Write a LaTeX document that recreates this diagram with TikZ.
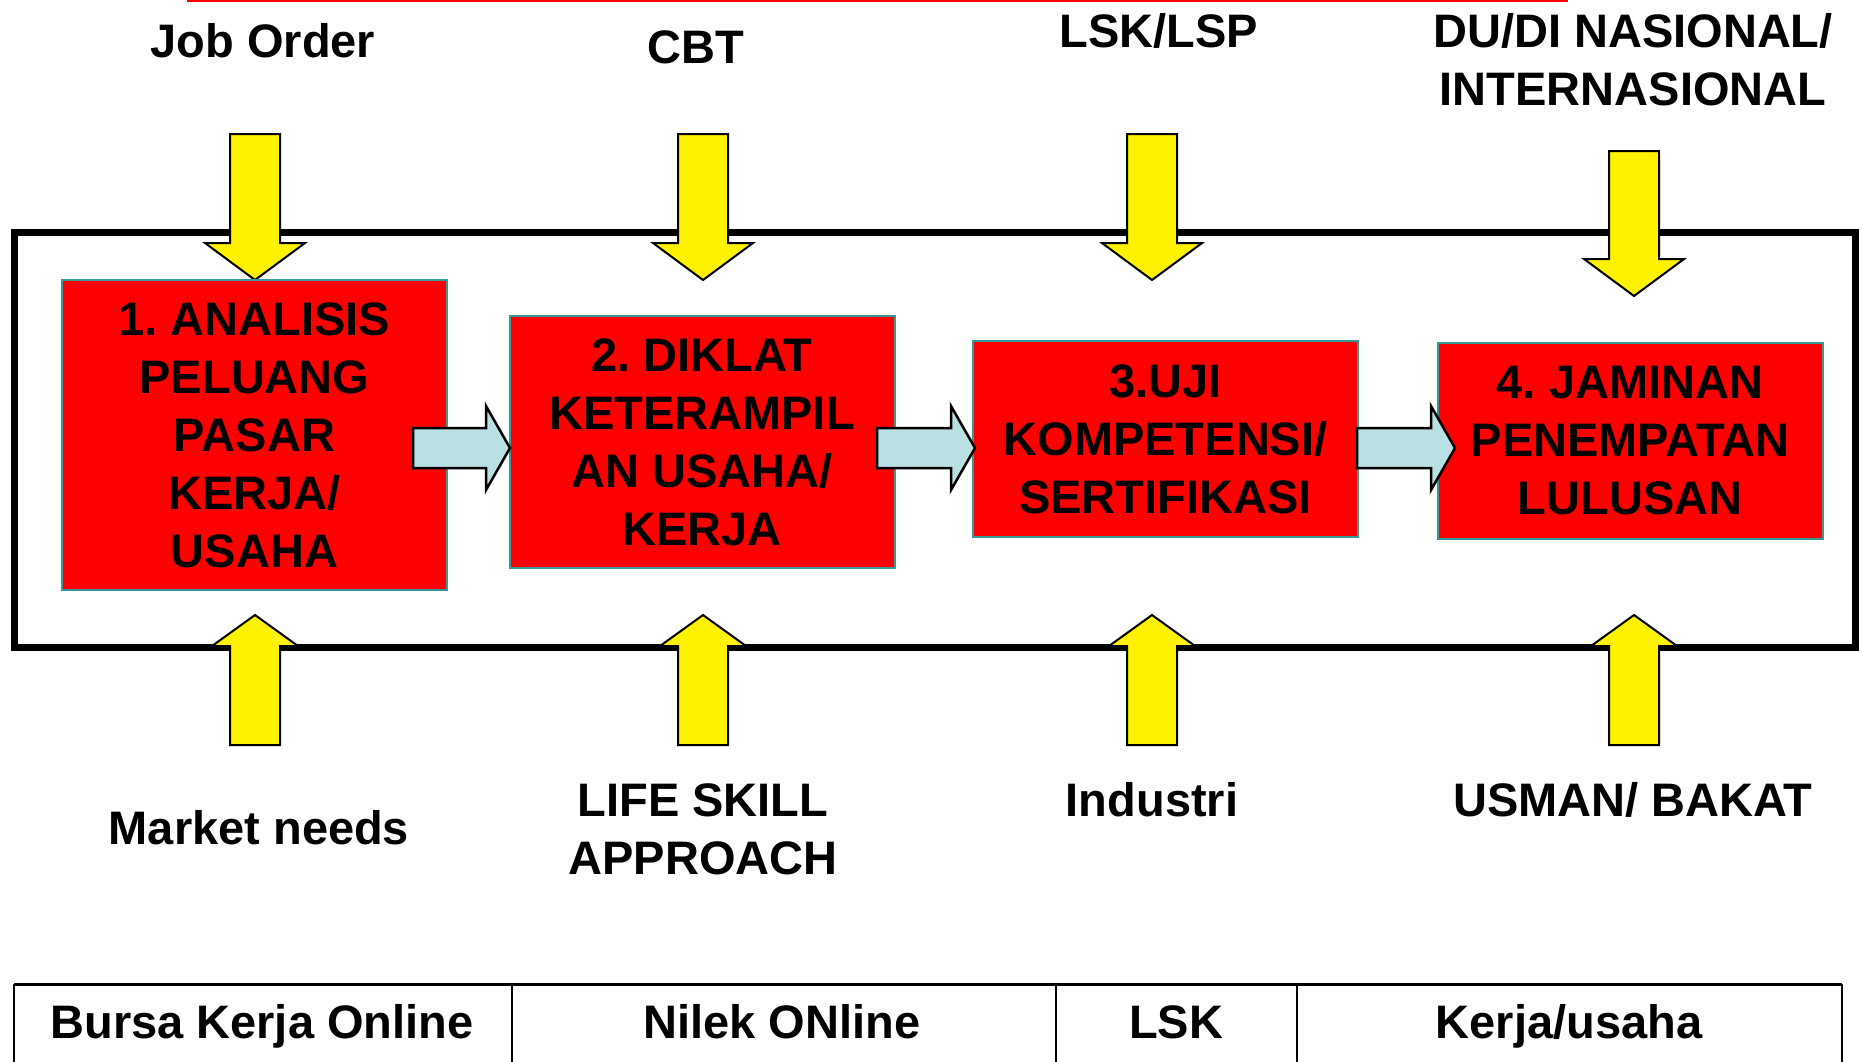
\documentclass[tikz,border=0pt]{standalone}
\usepackage{fontspec}
\setmainfont{Liberation Sans}
\usetikzlibrary{calc}

\definecolor{boxedge}{RGB}{51,153,153}
\definecolor{flowblue}{RGB}{187,224,227}

\newcommand{\downblock}[2]{\draw[yarrow] let \p1=(#1), \p2=(#2) in
  (\x1-12.5pt,\y1) -- (\x1-12.5pt,\y2+18.5pt) -- (\x1-25pt,\y2+18.5pt) -- (\x2,\y2)
  -- (\x1+25pt,\y2+18.5pt) -- (\x1+12.5pt,\y2+18.5pt) -- (\x1+12.5pt,\y1) -- cycle;}
\newcommand{\upblock}[2]{\draw[yarrow] let \p1=(#1), \p2=(#2) in
  (\x1-12.5pt,\y1) -- (\x1-12.5pt,\y2-15.5pt) -- (\x1-21.5pt,\y2-15.5pt) -- (\x2,\y2)
  -- (\x1+21.5pt,\y2-15.5pt) -- (\x1+12.5pt,\y2-15.5pt) -- (\x1+12.5pt,\y1) -- cycle;}
\newcommand{\rightblock}[2]{\draw[barrow] let \p1=(#1), \p2=(#2) in
  (\x1,\y1-10pt) -- (\x2-12pt,\y1-10pt) -- (\x2-12pt,\y1-21pt) -- (\x2,\y1)
  -- (\x2-12pt,\y1+21pt) -- (\x2-12pt,\y1+10pt) -- (\x1,\y1+10pt) -- cycle;}

\begin{document}
\begin{tikzpicture}[x=0.5pt, y=-0.5pt,
    font=\fontsize{23.5}{29}\selectfont\bfseries\frenchspacing,
    redbox/.style={draw=boxedge, fill=red, line width=1pt, minimum width=192.5pt, align=center, inner sep=0pt},
    lbl/.style={anchor=base, align=center, inner sep=0pt},
    yarrow/.style={draw=black, fill=yellow, line width=1pt, line join=miter},
    barrow/.style={draw=black, fill=flowblue, line width=1.25pt, line join=miter},
    tableline/.style={draw=black, line width=1pt}]
    \useasboundingbox (0,0) rectangle (1862,1061);

    \draw[red, line width=2pt] (187,0) -- (1568,0);

    \node[lbl] (joborder) at (263,57) {Job Order};
    \node[lbl] (cbt) at (696,63) {CBT};
    \node[lbl] (lsklsp) at (1159,47) {LSK/LSP};
    \node[lbl] (dudi) at (1633,105) {DU/DI NASIONAL/\\INTERNASIONAL};

    \node[lbl] (market) at (259,844) {Market needs};
    \node[lbl] (lifeskill) at (703,874) {LIFE SKILL\\APPROACH};
    \node[lbl] (industri) at (1152,816) {Industri};
    \node[lbl] (usman) at (1633,816) {USMAN/ BAKAT};

    \draw[line width=3.5pt] (14,232) rectangle (1855,647);

    \coordinate (jo-top) at (255,134);  \coordinate (jo-tip) at (255,280);
    \coordinate (cbt-top) at (703,134); \coordinate (cbt-tip) at (703,280);
    \coordinate (lsk-top) at (1152,134); \coordinate (lsk-tip) at (1152,280);
    \coordinate (dudi-top) at (1634,151); \coordinate (dudi-tip) at (1634,296);
    \coordinate (mkt-bot) at (255,745);  \coordinate (mkt-tip) at (255,615);
    \coordinate (life-bot) at (703,745); \coordinate (life-tip) at (703,615);
    \coordinate (ind-bot) at (1152,745); \coordinate (ind-tip) at (1152,615);
    \coordinate (usm-bot) at (1634,745); \coordinate (usm-tip) at (1634,615);

    \downblock{jo-top}{jo-tip}
    \downblock{cbt-top}{cbt-tip}
    \downblock{lsk-top}{lsk-tip}
    \downblock{dudi-top}{dudi-tip}
    \upblock{mkt-bot}{mkt-tip}
    \upblock{life-bot}{life-tip}
    \upblock{ind-bot}{ind-tip}
    \upblock{usm-bot}{usm-tip}

    \node[redbox, minimum height=155pt] (analisis) at (254.5,435) {1. ANALISIS\\PELUANG\\PASAR\\KERJA/\\USAHA};
    \node[redbox, minimum height=126pt] (diklat) at (702,442) {2. DIKLAT\\KETERAMPIL\\AN USAHA/\\KERJA};
    \node[redbox, minimum height=98pt] (uji) at (1165.5,439) {3.UJI\\KOMPETENSI/\\SERTIFIKASI};
    \node[redbox, minimum height=98pt] (jaminan) at (1630,441) {4. JAMINAN\\PENEMPATAN\\LULUSAN};

    \coordinate (f1) at (413,448);  \coordinate (t1) at (510,448);
    \coordinate (f2) at (877,448);  \coordinate (t2) at (975,448);
    \coordinate (f3) at (1357,448); \coordinate (t3) at (1455,448);
    \rightblock{f1}{t1}
    \rightblock{f2}{t2}
    \rightblock{f3}{t3}

    \draw[tableline, line width=1.5pt] (14,984) -- (1842,984);
    \draw[tableline] (14,984) -- (14,1070);
    \draw[tableline] (512,984) -- (512,1070);
    \draw[tableline] (1056,984) -- (1056,1070);
    \draw[tableline] (1297,984) -- (1297,1070);
    \draw[tableline] (1842,984) -- (1842,1070);
    \node[lbl] (bursa) at (262,1038) {Bursa Kerja Online};
    \node[lbl] (nilek) at (782,1038) {Nilek ONline};
    \node[lbl] (lsk) at (1176,1038) {LSK};
    \node[lbl] (kerja) at (1569,1038) {Kerja/usaha};
\end{tikzpicture}
\end{document}
